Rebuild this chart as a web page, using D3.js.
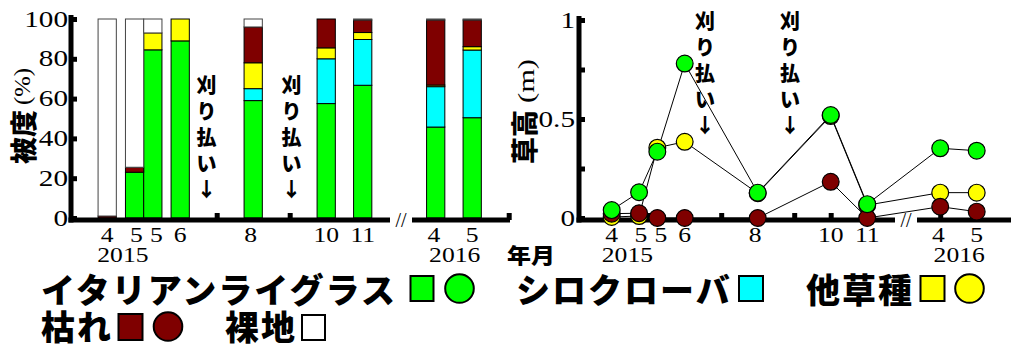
<!DOCTYPE html>
<html>
<head>
<meta charset="utf-8">
<script src="https://cdn.jsdelivr.net/npm/d3@7"></script>
<style>
  body { margin: 0; background: #fff; }
  svg { display: block; }
  .jp { font-family: "Noto Sans CJK JP", "Noto Sans", sans-serif; font-weight: 900; fill: #000; }
  .num { font-family: "Liberation Serif", "Times New Roman", serif; fill: #000; }
</style>
</head>
<body>
<svg id="chart" width="1011" height="345"></svg>
<script>
// Sampling dates (2015-04 … 2015-11, 2016-04, 2016-05)
const monthLabels = ["4", "5", "5", "6", "8", "10", "11", "4", "5"];
// Position on the time axis in months from Jan 2015; the winter gap is folded so 2016-04 sits at 13
const monthPos = [4, 4.75, 5.25, 6, 8, 10, 11, 13, 14];
const monthLabelPos = [4, 4.8, 5.35, 6, 7.93, 10, 11, 12.95, 14];
const yearLabels = ["2015", "2016"];
const yearPos = [4.43, 13.52];
const mowingPos = [6.72, 9.05];

// Ground cover (%) per sampling date
const coverItalian = [0, 23, 84.5, 89, 59, 57.5, 66.7, 45.7, 50.4];
const coverClover  = [0, 0, 0, 0, 6, 22.5, 23, 20.3, 34];
const coverOthers  = [0, 0, 8.5, 11, 13, 5.5, 3.5, 0.8, 1.7];
const coverDead    = [1, 2.5, 0, 0, 18, 14.5, 6.3, 32.7, 13.4];
const coverBare    = [99, 74.5, 7, 0, 4, 0, 0.5, 0.5, 0.5];

// Sward height (m) per sampling date
const heightItalian = [0.04, 0.13, 0.335, 0.78, 0.128, 0.52, 0.07, 0.352, 0.34];
const heightOthers  = [0.005, 0.01, 0.355, 0.385, 0.125, 0.515, 0.065, 0.128, 0.128];
const heightDead    = [0.022, 0.024, 0, 0, 0, 0.183, 0, 0.057, 0.032];

const coverTicks = [0, 20, 40, 60, 80, 100];
const heightTicks = [0, 0.25, 0.5, 0.75, 1];
const heightTickLabels = [0, 0.5, 1];
const monthTicks = [4, 5, 6, 7, 8, 9, 10, 11, 13, 14, 15];

const COLORS = {
  italian: "#00ff00",
  clover: "#00ffff",
  others: "#ffff00",
  dead: "#7f0000",
  bare: "#ffffff"
};

const svg = d3.select("#chart");

// serif numerals are drawn slightly wide
function num(g, x, y, text, anchor, size, stretch) {
  g.append("text")
    .attr("class", "num")
    .attr("transform", `translate(${x},${y}) scale(${stretch},1)`)
    .attr("text-anchor", anchor)
    .attr("font-size", size)
    .text(text);
}

function mowingNote(g, x, yTop) {
  const chars = ["刈", "り", "払", "い", "↓"];
  g.selectAll(null).data(chars).join("text")
    .attr("class", "jp")
    .attr("font-size", 20)
    .attr("text-anchor", "middle")
    .attr("x", x)
    .attr("y", (d, i) => yTop + i * 26 + 7)
    .text(d => d);
}

// Tick nubs shared by both panels
function drawFrame(g, x, y, cfg) {
  g.append("g")
    .attr("transform", `translate(0,${cfg.axisY})`)
    .call(d3.axisTop(x).tickValues(cfg.xTicks).tickSize(7).tickFormat(""))
    .call(s => s.select(".domain").remove())
    .selectAll("line").attr("stroke", "#000").attr("stroke-width", 5);
  g.append("g")
    .attr("transform", `translate(${cfg.axisX},0)`)
    .call(d3.axisRight(y).tickValues(cfg.yTicks).tickSize(6).tickFormat(""))
    .call(s => s.select(".domain").remove())
    .selectAll("line").attr("stroke", "#000").attr("stroke-width", 5);
}

function drawAxisLines(g, x, y, cfg) {
  const lw = 5;
  g.append("line")
    .attr("x1", cfg.axisX).attr("x2", cfg.axisX)
    .attr("y1", cfg.yTop).attr("y2", cfg.axisY + lw / 2)
    .attr("stroke", "#000").attr("stroke-width", lw);
  g.append("line")
    .attr("x1", cfg.axisX - lw / 2).attr("x2", cfg.breakStart)
    .attr("y1", cfg.axisY).attr("y2", cfg.axisY)
    .attr("stroke", "#000").attr("stroke-width", lw);
  g.append("line")
    .attr("x1", cfg.breakEnd).attr("x2", cfg.xEnd)
    .attr("y1", cfg.axisY).attr("y2", cfg.axisY)
    .attr("stroke", "#000").attr("stroke-width", lw);
  g.append("text")
    .attr("class", "num")
    .attr("font-size", 20)
    .attr("text-anchor", "middle")
    .attr("x", (cfg.breakStart + cfg.breakEnd) / 2)
    .attr("y", cfg.axisY + 7)
    .text("//");

  // date labels
  monthLabels.forEach((m, i) => num(g, x(monthLabelPos[i]), 242, m, "middle", 21, 1.22));
  yearLabels.forEach((yy, i) => num(g, x(yearPos[i]), 262, yy, "middle", 21, 1.22));
}

// ---------- Left panel: ground cover ----------
const xL = d3.scaleLinear().domain([4, 14]).range([107.2, 472.2]);
const yL = d3.scaleLinear().domain([0, 100]).range([218, 19]);
const gL = svg.append("g");
const cfgL = { axisX: 71, axisY: 220, yTop: 15, breakStart: 390, breakEnd: 412, xEnd: 510,
               xTicks: monthTicks, yTicks: coverTicks };

drawFrame(gL, xL, yL, cfgL);

const coverRows = monthPos.map((p, i) => ({
  pos: p,
  italian: coverItalian[i], clover: coverClover[i], others: coverOthers[i],
  dead: coverDead[i], bare: coverBare[i]
}));
const keys = ["italian", "clover", "others", "dead", "bare"];
const stacked = d3.stack().keys(keys)(coverRows);
const barW = xL(4.5) - xL(4);

stacked.forEach(layer => {
  gL.append("g").selectAll("rect")
    .data(layer.filter(d => d[1] - d[0] > 0))
    .join("rect")
    .attr("x", d => xL(d.data.pos) - barW / 2)
    .attr("width", barW)
    .attr("y", d => yL(d[1]))
    .attr("height", d => yL(d[0]) - yL(d[1]))
    .attr("fill", COLORS[layer.key])
    .attr("stroke", layer.key === "bare" ? "#444" : "#000")
    .attr("stroke-width", 1);
});

drawAxisLines(gL, xL, yL, cfgL);
coverTicks.forEach(v => num(gL, cfgL.axisX - 3, yL(v) + 7.5, String(v), "end", 23, 1.27));
mowingPos.forEach(p => mowingNote(gL, xL(p), 86));

// axis title: 被度（%）
gL.append("text").attr("class", "jp")
  .attr("font-size", 27)
  .attr("dominant-baseline", "central")
  .attr("transform", "translate(22,164) rotate(-90)")
  .text("被度");
gL.append("text").attr("class", "num")
  .attr("font-size", 23)
  .attr("dominant-baseline", "central")
  .attr("textLength", 37).attr("lengthAdjust", "spacingAndGlyphs")
  .attr("transform", "translate(22.5,105) rotate(-90)")
  .text("(%)");

// ---------- Right panel: sward height ----------
const xR = d3.scaleLinear().domain([4, 14]).range([611.7, 976.7]);
const yR = d3.scaleLinear().domain([0, 1]).range([218, 20]);
const gR = svg.append("g");
const cfgR = { axisX: 579, axisY: 220, yTop: 16, breakStart: 895, breakEnd: 917, xEnd: 1015,
               xTicks: monthTicks, yTicks: heightTicks };

drawFrame(gR, xR, yR, cfgR);
drawAxisLines(gR, xR, yR, cfgR);
heightTickLabels.forEach(v => num(gR, cfgR.axisX - 4, yR(v) + 7.5, String(v), "end", 23, 1.27));
mowingPos.forEach(p => mowingNote(gR, xR(p) - 6, 22));

const heightSeries = [
  { key: "others", values: heightOthers },
  { key: "dead", values: heightDead },
  { key: "italian", values: heightItalian }
];
const line = d3.line().x(d => xR(d.pos)).y(d => yR(d.v));
heightSeries.forEach(s => {
  s.points = monthPos.map((p, i) => ({ pos: p, v: s.values[i] }));
  gR.append("path")
    .attr("d", line(s.points))
    .attr("fill", "none")
    .attr("stroke", "#000")
    .attr("stroke-width", 1);
});
heightSeries.forEach(s => {
  gR.append("g").selectAll("circle")
    .data(s.points)
    .join("circle")
    .attr("cx", d => xR(d.pos))
    .attr("cy", d => yR(d.v))
    .attr("r", 8.4)
    .attr("fill", COLORS[s.key])
    .attr("stroke", "#000")
    .attr("stroke-width", 1.2);
});

// axis title: 草高（m）
gR.append("text").attr("class", "jp")
  .attr("font-size", 27)
  .attr("dominant-baseline", "central")
  .attr("transform", "translate(523,164) rotate(-90)")
  .text("草高");
gR.append("text").attr("class", "num")
  .attr("font-size", 24)
  .attr("dominant-baseline", "central")
  .attr("textLength", 44).attr("lengthAdjust", "spacingAndGlyphs")
  .attr("transform", "translate(526,103) rotate(-90)")
  .text("(m)");

svg.append("text").attr("class", "jp")
  .attr("font-size", 21)
  .attr("x", 507).attr("y", 263)
  .attr("textLength", 48).attr("lengthAdjust", "spacingAndGlyphs")
  .text("年月");

// ---------- Legend ----------
const lg = svg.append("g");
function legendText(x, y, t) {
  lg.append("text").attr("class", "jp")
    .attr("font-size", 34)
    .attr("letter-spacing", 2)
    .attr("x", x).attr("y", y)
    .text(t);
}
function legendSquare(x, y, w, h, key) {
  lg.append("rect").attr("x", x).attr("y", y).attr("width", w).attr("height", h)
    .attr("fill", COLORS[key]).attr("stroke", "#000").attr("stroke-width", 2);
}
function legendCircle(cx, cy, r, key) {
  lg.append("circle").attr("cx", cx).attr("cy", cy).attr("r", r)
    .attr("fill", COLORS[key]).attr("stroke", "#000").attr("stroke-width", 2);
}

legendText(41, 303, "イタリアンライグラス");
legendSquare(410.5, 276, 23, 25, "italian");
legendCircle(459.5, 288.5, 14.3, "italian");

legendText(516, 303, "シロクローバ");
legendSquare(739, 276, 24, 25, "clover");

legendText(806, 303, "他草種");
legendSquare(920.5, 276, 24, 25, "others");
legendCircle(969.5, 288.5, 14.3, "others");

legendText(41, 340, "枯れ");
legendSquare(118.5, 314, 24, 26, "dead");
legendCircle(168, 326.5, 14.3, "dead");

legendText(225, 340, "裸地");
legendSquare(302, 315, 23, 25, "bare");
</script>
</body>
</html>
